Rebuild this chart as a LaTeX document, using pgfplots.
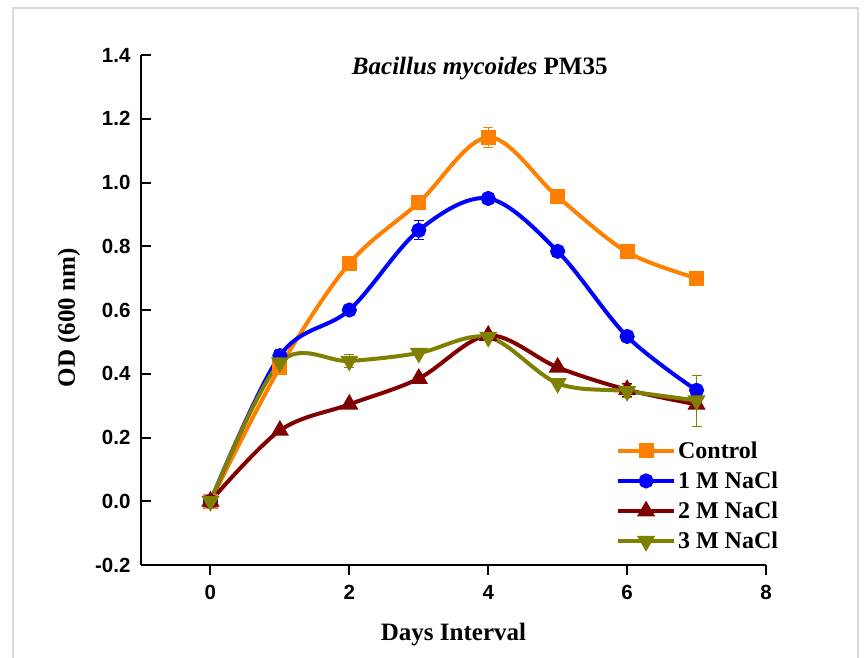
\documentclass[border=0pt]{standalone}
\usepackage{pgfplots}
\pgfplotsset{compat=1.18}
\usepackage{fontspec}
\setmainfont{Liberation Serif}
\setsansfont{Liberation Sans}
\definecolor{cctrl}{RGB}{255,128,0}
\definecolor{cone}{RGB}{0,0,255}
\definecolor{ctwo}{RGB}{128,0,0}
\definecolor{cthree}{RGB}{128,128,0}
\begin{document}
\begin{tikzpicture}
\useasboundingbox (-141pt,-92pt) rectangle (724pt,565pt);
\draw[black!15, line width=1.2pt] (-128pt,-100pt) -- (-128pt,557pt) -- (717pt,557pt) -- (717pt,-100pt);
\begin{axis}[
  scale only axis, width=625pt, height=510pt,
  xmin=-1, xmax=8, ymin=-0.2, ymax=1.4,
  axis x line*=bottom, axis y line*=left,
  axis line style={line width=2pt, -},
  xtick={0,2,4,6,8}, ytick={-0.2,0,0.2,0.4,0.6,0.8,1.0,1.2,1.4},
  y tick label style={xshift=-7pt},
  yticklabel style={/pgf/number format/fixed, /pgf/number format/fixed zerofill, /pgf/number format/precision=1},
  /pgf/number format/assume math mode=true,
  ticklabel style={font=\fontsize{20.5}{20.5}\selectfont\sffamily\bfseries},
  xtick align=outside, ytick align=inside,
  major tick length=10pt,
  tick style={line width=2pt, black},
  x tick label style={yshift=-7pt},
  xlabel={Days Interval}, ylabel={OD (600 nm)},
  label style={font=\fontsize{25}{25}\selectfont\bfseries},
  xlabel style={yshift=-16pt},
  ylabel style={yshift=8pt, at={(ticklabel cs:0.485)}},
  legend style={draw=none, fill=none, at={(0.755,0.25)}, anchor=north west,
    font=\fontsize{24}{24}\selectfont\bfseries, row sep=8pt},
  legend cell align=left,
  legend image code/.code={\draw[#1, mark repeat=2, mark phase=2] plot coordinates {(0pt,0pt) (28pt,0pt) (56pt,0pt)};},
  every axis plot/.append style={line width=4pt, smooth, tension=0.55,
    error bars/y dir=both, error bars/y explicit,
    error bars/error bar style={line width=1pt},
    error bars/error mark options={rotate=90, mark size=5pt, line width=1pt}},
]
\addplot[color=cctrl, mark=square*, mark size=5.5pt] table[x=x, y=y, y error=e] {
x y e
0 0 0
1 0.42 0
2 0.746 0
3 0.937 0
4 1.142 0.032
5 0.955 0
6 0.782 0
7 0.700 0
};
\addlegendentry{Control}
\addplot[color=cone, mark=*, mark size=5.5pt] table[x=x, y=y, y error=e] {
x y e
0 0 0
1 0.457 0.02
2 0.600 0.012
3 0.850 0.03
4 0.950 0.01
5 0.784 0
6 0.517 0.012
7 0.348 0
};
\addlegendentry{1 M NaCl}
\addplot[color=ctwo, mark=triangle*, mark size=6.5pt] table[x=x, y=y, y error=e] {
x y e
0 0 0
1 0.222 0
2 0.304 0
3 0.385 0
4 0.520 0
5 0.420 0
6 0.350 0.02
7 0.304 0
};
\addlegendentry{2 M NaCl}
\addplot[color=cthree, mark=triangle*, mark size=6.5pt, mark options={rotate=180}] table[x=x, y=y, y error=e] {
x y e
0 0 0
1 0.435 0
2 0.440 0.02
3 0.465 0
4 0.515 0
5 0.370 0
6 0.345 0.02
7 0.316 0.08
};
\addlegendentry{3 M NaCl}
\node[font=\fontsize{25}{25}\selectfont\bfseries] at (rel axis cs:0.542,0.974) {\textit{Bacillus mycoides} PM35};
\end{axis}
\end{tikzpicture}
\end{document}
